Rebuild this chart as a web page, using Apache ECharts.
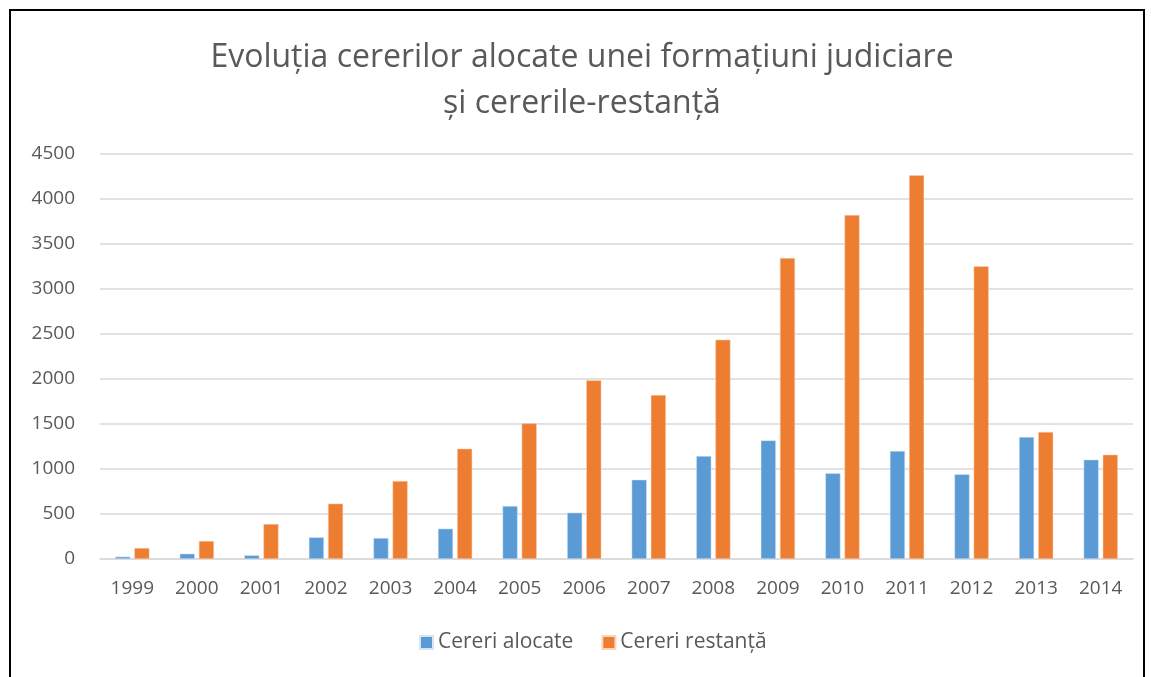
<!DOCTYPE html>
<html>
<head>
<meta charset="utf-8">
<script src="https://cdn.jsdelivr.net/npm/echarts@6/dist/echarts.min.js"></script>
<style>
  html, body { margin: 0; padding: 0; background: #fff; }
  #frame { position: absolute; left: 9px; top: 9px; width: 1136px; height: 680px; border: 2px solid #000; box-sizing: border-box; }
  #chart { width: 1151px; height: 677px; }
</style>
</head>
<body>
<div id="frame"></div>
<div id="chart"></div>
<script>
// years on the x axis
var years = ['1999', '2000', '2001', '2002', '2003', '2004', '2005', '2006',
             '2007', '2008', '2009', '2010', '2011', '2012', '2013', '2014'];
// cereri alocate (blue)
var alocate = [26, 59, 41, 241, 233, 337, 589, 515, 881, 1144, 1318, 952, 1200, 941, 1356, 1104];
// cereri restanta (orange)
var restanta = [122, 200, 389, 615, 867, 1226, 1507, 1985, 1822, 2437, 3344, 3822, 4263, 3252, 1411, 1159];

var font = '"Open Sans", "Noto Sans", sans-serif';
var grey = '#595959';

var chart = echarts.init(document.getElementById('chart'));
chart.setOption({
    animation: false,
    textStyle: { fontFamily: font, color: grey },
    title: {
        text: 'Evoluția cererilor alocate unei formațiuni judiciare\nși cererile-restanță',
        left: 577,
        textAlign: 'center',
        top: 30,
        textStyle: { fontFamily: font, fontSize: 32, fontWeight: 'normal', color: grey, lineHeight: 46 }
    },
    legend: {
        data: ['Cereri alocate', 'Cereri restanță'],
        bottom: 19,
        left: 414,
        itemWidth: 13,
        itemHeight: 13,
        itemGap: 28,
        icon: 'rect',
        textStyle: { fontFamily: font, fontSize: 21, color: grey }
    },
    grid: { left: 100, right: 18, top: 154, bottom: 118 },
    xAxis: {
        type: 'category',
        data: years,
        axisLine: { lineStyle: { color: '#d9d9d9', width: 1.5 } },
        axisTick: { show: false },
        axisLabel: { fontSize: 19, color: grey, margin: 20 }
    },
    yAxis: {
        type: 'value',
        min: 0,
        max: 4500,
        interval: 500,
        axisLine: { show: false },
        axisTick: { show: false },
        splitLine: { lineStyle: { color: '#d9d9d9', width: 1.5 } },
        axisLabel: { fontSize: 19, color: grey, margin: 25, formatter: function (v) { return String(v); } }
    },
    series: [
        {
            name: 'Cereri alocate',
            type: 'bar',
            data: alocate,
            barGap: '27%',
            barCategoryGap: '47%',
            itemStyle: { color: '#5b9bd5', borderColor: '#d6e6f5', borderWidth: 0.5 }
        },
        {
            name: 'Cereri restanță',
            type: 'bar',
            data: restanta,
            itemStyle: { color: '#ed7d31', borderColor: '#fbd4bd', borderWidth: 0.5 }
        }
    ]
});
</script>
</body>
</html>
